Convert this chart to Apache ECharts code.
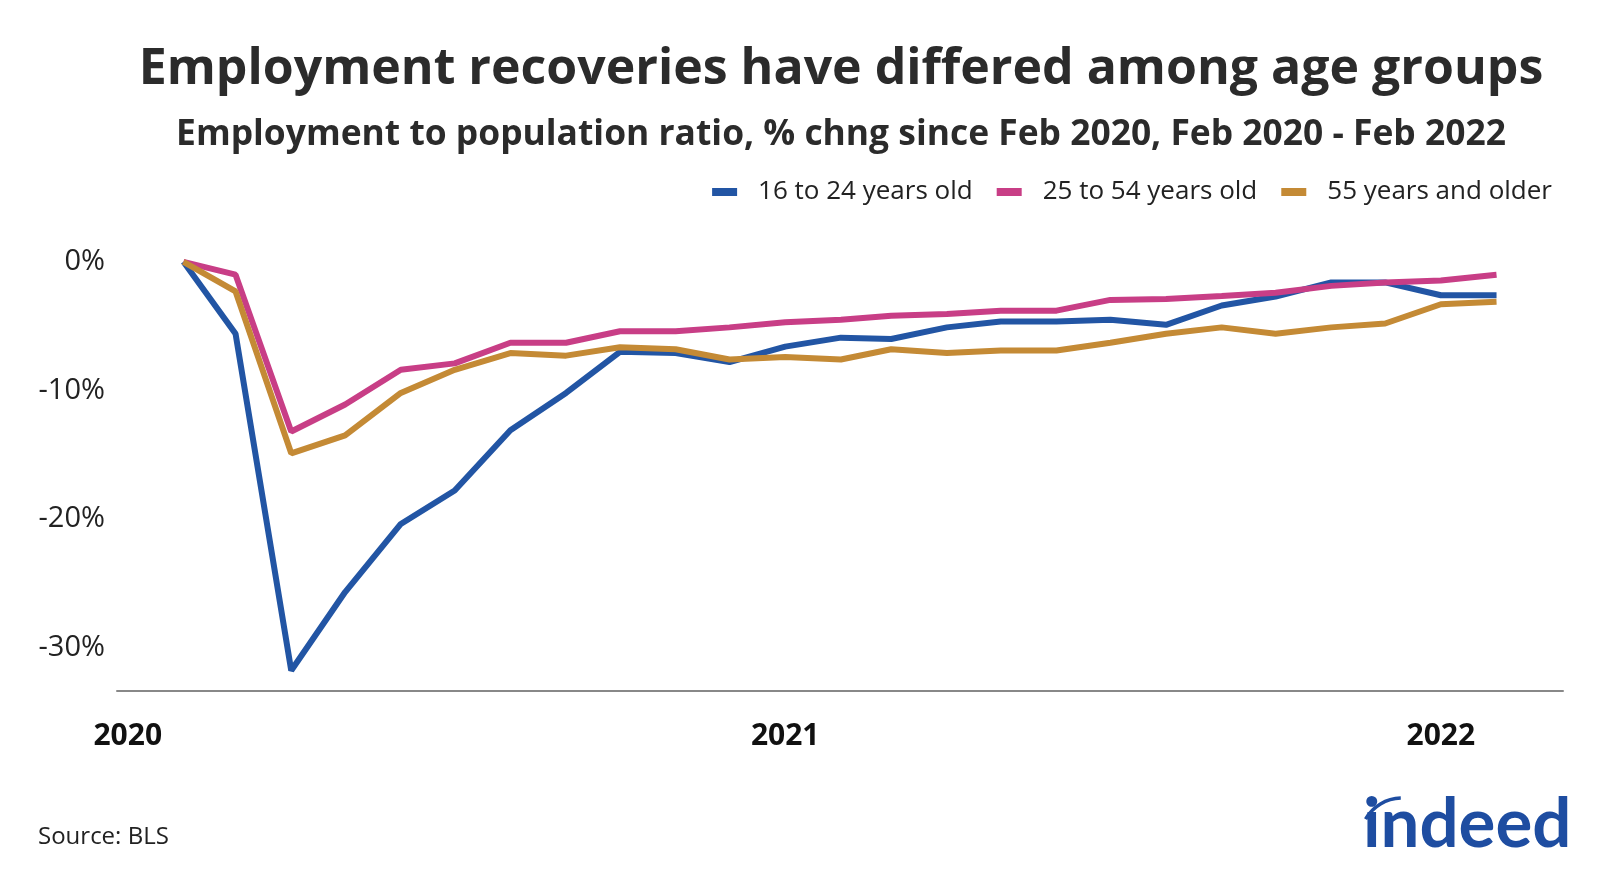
<!DOCTYPE html>
<html>
<head>
<meta charset="utf-8">
<script src="https://cdn.jsdelivr.net/npm/echarts@6/dist/echarts.min.js"></script>
<style>
html,body{margin:0;padding:0;background:#fff;}
#chart{width:1600px;height:873px;}
</style>
</head>
<body>
<div id="chart"></div>
<script>
const months = ['2020-02-01','2020-03-01','2020-04-01','2020-05-01','2020-06-01','2020-07-01','2020-08-01','2020-09-01','2020-10-01','2020-11-01','2020-12-01','2021-01-01','2021-02-01','2021-03-01','2021-04-01','2021-05-01','2021-06-01','2021-07-01','2021-08-01','2021-09-01','2021-10-01','2021-11-01','2021-12-01','2022-01-01','2022-02-01'];
const seriesNames = ['16 to 24 years old','25 to 54 years old','55 years and older'];
const age16to24 = [0,-5.6,-31.8,-25.7,-20.4,-17.8,-13.1,-10.2,-7.0,-7.1,-7.8,-6.6,-5.9,-6.0,-5.1,-4.65,-4.65,-4.5,-4.9,-3.4,-2.7,-1.6,-1.6,-2.6,-2.6];
const age25to54 = [0,-1.0,-13.2,-11.1,-8.4,-7.9,-6.3,-6.3,-5.4,-5.4,-5.1,-4.7,-4.5,-4.2,-4.05,-3.8,-3.8,-2.96,-2.9,-2.65,-2.4,-1.87,-1.6,-1.45,-1.0];
const age55plus = [0,-2.3,-14.9,-13.5,-10.2,-8.4,-7.1,-7.3,-6.65,-6.8,-7.6,-7.4,-7.6,-6.8,-7.1,-6.9,-6.9,-6.3,-5.6,-5.1,-5.6,-5.1,-4.8,-3.3,-3.1];
const yTicks = [0,-10,-20,-30];
const xTickYears = ['2020-01-01','2021-01-01','2022-01-01'];
const colors = ['#2255A4','#C83E86','#C48A35'];

function toTs(s){const p=s.split('-').map(Number);return Date.UTC(p[0],p[1]-1,p[2]);}
function pairs(vals){return months.map((m,i)=>[toTs(m),vals[i]]);}

const chart = echarts.init(document.getElementById('chart'));
const FONT = '"Open Sans", "Noto Sans", sans-serif';
chart.setOption({
  animation:false,
  backgroundColor:'#fff',
  color:colors,
  textStyle:{fontFamily:FONT},
  grid:{left:117,right:37,top:249,bottom:182,containLabel:false},
  legend:{
    right:43, top:174,
    icon:'rect', itemWidth:25, itemHeight:8, itemGap:24,
    textStyle:{fontSize:26,color:'#222',fontFamily:FONT,padding:[0,0,0,16]},
    data:seriesNames
  },
  graphic:[
    {type:'text',x:841,y:70,style:{text:'Employment recoveries have differed among age groups',font:'bold 50px "Open Sans", sans-serif',fill:'#2b2b2b',align:'center',verticalAlign:'middle'}},
    {type:'text',x:841,y:135,style:{text:'Employment to population ratio, % chng since Feb 2020, Feb 2020 - Feb 2022',font:'bold 35.4px "Open Sans", sans-serif',fill:'#2b2b2b',align:'center',verticalAlign:'middle'}},
    {type:'text',x:38,y:837,style:{text:'Source: BLS',font:'24px "Open Sans", sans-serif',fill:'#222',align:'left',verticalAlign:'middle'}},
    {type:'text',x:1363,y:825,style:{text:'indeed',font:'bold 69px Lato, "Open Sans", sans-serif',fill:'#1E4DA1',align:'left',verticalAlign:'middle'}},
    {type:'arc',shape:{cx:1402,cy:840,r:42,startAngle:-2.62,endAngle:-1.6},style:{stroke:'#1E4DA1',lineWidth:3.5,fill:null}}
  ],
  xAxis:{
    type:'value',
    min:toTs('2019-12-26'), max:toTs('2022-03-10'),
    axisLine:{show:true,onZero:false,lineStyle:{color:'#888',width:2}},
    axisTick:{show:false},
    splitLine:{show:false},
    axisLabel:{
      customValues:xTickYears.map(toTs),
      formatter:function(v){return String(new Date(v).getUTCFullYear());},
      fontSize:30,fontWeight:'bold',color:'#111',margin:30,fontFamily:FONT
    }
  },
  yAxis:{
    type:'value',
    min:-33.4,max:1,
    axisLine:{show:false},
    axisTick:{show:false},
    splitLine:{show:false},
    axisLabel:{
      customValues:yTicks,
      formatter:function(v){return v+'%';},
      fontSize:29,color:'#222',margin:12,fontFamily:FONT
    }
  },
  series:[
    {name:seriesNames[0],type:'line',data:pairs(age16to24),symbol:'none',lineStyle:{width:6},z:3},
    {name:seriesNames[1],type:'line',data:pairs(age25to54),symbol:'none',lineStyle:{width:6},z:4},
    {name:seriesNames[2],type:'line',data:pairs(age55plus),symbol:'none',lineStyle:{width:6},z:5}
  ]
});
</script>
</body>
</html>
